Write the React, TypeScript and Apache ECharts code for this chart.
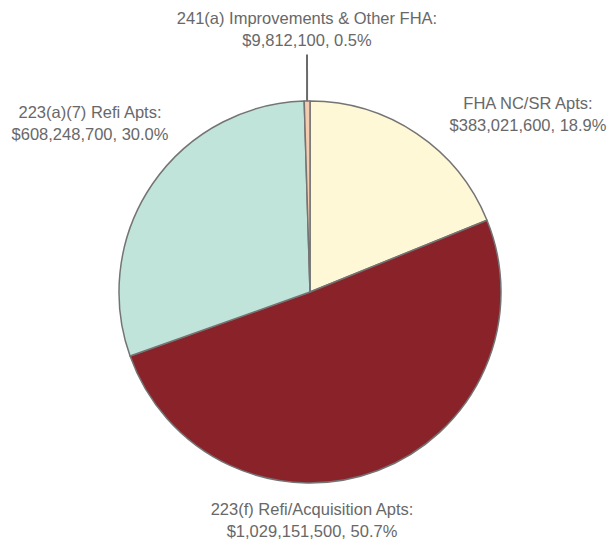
import React, { useEffect, useRef } from "react";
import * as echarts from "echarts";

const categories = [
  "FHA NC/SR Apts",
  "223(f) Refi/Acquisition Apts",
  "223(a)(7) Refi Apts",
  "241(a) Improvements & Other FHA",
];
const amounts = [383021600, 1029151500, 608248700, 9812100];
const colors = ["#FEF8D6", "#8A2329", "#C1E4DA", "#F4CBAE"];

// label anchor layout (centers, px)
const labelPos = [
  [528, 114],
  [312, 520],
  [90, 123],
  [307, 29],
];

const total = amounts.reduce((a, b) => a + b, 0);

export default function App() {
  const ref = useRef<HTMLDivElement>(null);
  useEffect(() => {
    if (!ref.current) return;
    const chart = echarts.init(ref.current, undefined, { renderer: "svg" });
    chart.setOption({
      animation: false,
      backgroundColor: "#ffffff",
      series: [
        {
          type: "pie",
          center: [310, 292],
          radius: 191,
          startAngle: 90,
          clockwise: true,
          avoidLabelOverlap: false,
          itemStyle: { borderColor: "#747474", borderWidth: 1.5 },
          label: {
            show: true,
            position: "outside",
            color: "#686868",
            fontFamily: "Liberation Sans, Arial, sans-serif",
            fontSize: 16.5,
            lineHeight: 22,
            align: "center",
            formatter: (p: any) =>
              `${p.name}:\n$${p.value.toLocaleString("en-US")}, ${((p.value / total) * 100).toFixed(1)}%`,
          },
          labelLine: { show: false },
          labelLayout: (p: any) => ({
            x: labelPos[p.dataIndex][0],
            y: labelPos[p.dataIndex][1],
            align: "center",
            verticalAlign: "middle",
          }),
          data: categories.map((c, i) => ({
            name: c,
            value: amounts[i],
            itemStyle: { color: colors[i] },
            label: i === 3 ? { padding: [0, 0, 7, 0] } : {},
            labelLine:
              i === 3
                ? { show: true, length: 20, length2: 0, lineStyle: { color: "#6a6a6a", width: 2 } }
                : { show: false },
          })),
        },
      ],
    });
    return () => chart.dispose();
  }, []);
  return (
    <div
      ref={ref}
      style={{ position: "absolute", left: 0, top: 0, width: 610, height: 539 }}
    />
  );
}
